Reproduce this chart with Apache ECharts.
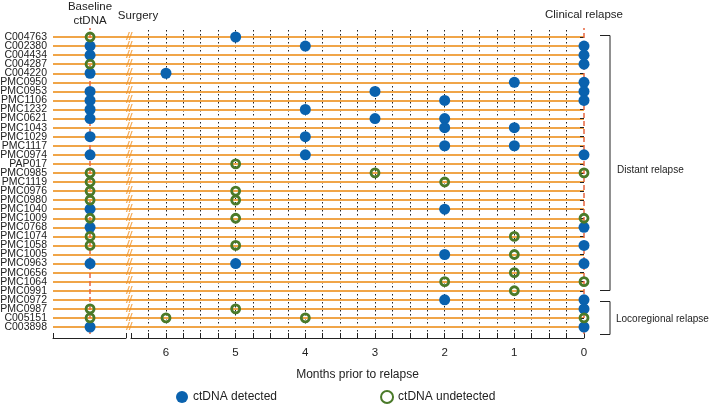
<!DOCTYPE html>
<html>
<head>
<meta charset="utf-8">
<script src="https://cdn.jsdelivr.net/npm/echarts@6/dist/echarts.min.js"></script>
<style>html,body{margin:0;padding:0;background:#fff}#c{width:709px;height:405px}</style>
</head>
<body>
<div id="c"></div>
<script>
// ---------------- data ----------------
const patients = ['C004763','C002380','C004434','C004287','C004220','PMC0950','PMC0953','PMC1106','PMC1232','PMC0621','PMC1043','PMC1029','PMC1117','PMC0974','PAP017','PMC0985','PMC1119','PMC0976','PMC0980','PMC1040','PMC1009','PMC0768','PMC1074','PMC1058','PMC1005','PMC0963','PMC0656','PMC1064','PMC0991','PMC0972','PMC0987','C005151','C003898'];
// D = detected, U = undetected, '-' = no baseline sample
const baselineStatus = ['U','D','D','U','D','-','D','D','D','D','-','D','-','D','-','U','U','U','U','D','U','D','U','U','-','D','-','-','-','-','U','U','D'];
// months prior to relapse with ctDNA detected / undetected
const detectedMonths = [[5],[4,0],[0],[0],[6],[1,0],[3,0],[2,0],[4],[3,2],[2,1],[4],[2,1],[4,0],[],[],[],[],[],[2],[],[0],[],[0],[2],[5,0],[],[],[],[2,0],[0],[],[0]];
const undetectedMonths = [[],[],[],[],[],[],[],[],[],[],[],[],[],[],[5],[3,0],[2],[5],[5],[],[5,0],[],[1],[5],[1],[],[1],[2,0],[1],[],[5],[6,4,0],[]];
const monthTicks = [0,1,2,3,4,5,6];
const groups = ['Distant relapse','Locoregional relapse'];

// -------- layout constants (not data) --------
const AXIS_MAX = 6.5;          // right (labelled) axis segment range
const FULL_MAX = 7.622;        // full data span incl. baseline area
const BASELINE_POS = 7.09;
const SURGERY_POS = 6.53;

const BLUE = '#0a62ae', GREEN = '#4a7a29', ORANGE = '#f0a548', RED = '#e8663f';

const detData = [], undData = [], surgData = [];
patients.forEach((p, i) => {
  if (baselineStatus[i] === 'D') detData.push([BASELINE_POS, p]);
  if (baselineStatus[i] === 'U') undData.push([BASELINE_POS, p]);
  detectedMonths[i].forEach(m => detData.push([m, p]));
  undetectedMonths[i].forEach(m => undData.push([m, p]));
  surgData.push([SURGERY_POS, p]);
});

const font = 'Liberation Sans, Arial, sans-serif';
const chart = echarts.init(document.getElementById('c'), null, {renderer: 'canvas'});

chart.setOption({
  animation: false,
  textStyle: {fontFamily: font},
  grid: [
    {left: 53, right: 125, top: 37, bottom: 78, outerBoundsMode: 'none', containLabel: false},      // data grid
    {left: 131, right: 125, top: 30, bottom: 67, outerBoundsMode: 'none', containLabel: false},     // months axis
    {left: 53, width: 73, top: 30, bottom: 67, outerBoundsMode: 'none', containLabel: false},       // left axis segment
    {left: 53, right: 125, top: 28, bottom: 71, outerBoundsMode: 'none', containLabel: false}       // reference lines
  ],
  xAxis: [
    {gridIndex: 0, type: 'value', min: 0, max: FULL_MAX, inverse: true, show: false},
    {gridIndex: 1, type: 'value', min: 0, max: AXIS_MAX, inverse: true, interval: 0.25,
      axisLine: {show: true, lineStyle: {color: '#222', width: 1}},
      axisTick: {show: true, inside: true, length: 5, lineStyle: {color: '#222'}},
      axisLabel: {fontSize: 11.5, color: '#222', margin: 9, fontFamily: font,
        formatter: v => (monthTicks.indexOf(v) >= 0 ? String(v) : '')},
      splitLine: {show: true, showMinLine: false, showMaxLine: false,
        lineStyle: {color: '#222', width: 1, type: [1.5, 2.5]}},
      name: 'Months prior to relapse', nameLocation: 'middle', nameGap: 31,
      nameTextStyle: {fontSize: 12, color: '#222', fontFamily: font},
      z: 0},
    {gridIndex: 2, type: 'value', min: 0, max: 1, interval: 1,
      axisLine: {show: true, lineStyle: {color: '#222', width: 1}},
      axisTick: {show: true, inside: true, length: 5, lineStyle: {color: '#222'}},
      axisLabel: {show: false}, splitLine: {show: false}},
    {gridIndex: 3, type: 'value', min: 0, max: FULL_MAX, inverse: true, show: false}
  ],
  yAxis: [
    {gridIndex: 0, type: 'category', data: patients, inverse: true, boundaryGap: false,
      axisLine: {show: false},
      axisTick: {show: true, length: 4, interval: 0, lineStyle: {color: '#222'}},
      axisLabel: {fontSize: 10.5, color: '#222', margin: 6, interval: 0, fontFamily: font},
      splitLine: {show: true, interval: 0, lineStyle: {color: ORANGE, width: 1.8}}, z: 1},
    {gridIndex: 1, type: 'value', show: false, min: 0, max: 1},
    {gridIndex: 2, type: 'value', show: false, min: 0, max: 1},
    {gridIndex: 3, type: 'value', show: false, min: 0, max: 1}
  ],
  legend: {
    data: ['ctDNA detected', 'ctDNA undetected'],
    left: 171, top: 385, itemWidth: 12, itemHeight: 12, itemGap: 103,
    textStyle: {fontSize: 12, color: '#222', fontFamily: font}
  },
  series: [
    {type: 'line', xAxisIndex: 3, yAxisIndex: 3, data: [], silent: true,
      markLine: {symbol: 'none', silent: true, label: {show: false},
        lineStyle: {color: RED, width: 1.5, type: [5, 3]},
        data: [{xAxis: BASELINE_POS}, {xAxis: 0}]}, z: 2},
    {name: 'surgery', type: 'scatter', xAxisIndex: 0, yAxisIndex: 0, data: surgData,
      symbolSize: 0, clip: false, silent: true,
      label: {show: true, position: 'inside', formatter: '//', color: '#f39325',
        fontSize: 10, fontWeight: 'bold', fontStyle: 'italic', fontFamily: font}, z: 3},
    {name: 'ctDNA detected', type: 'scatter', xAxisIndex: 0, yAxisIndex: 0, data: detData,
      symbol: 'circle', symbolSize: 11, clip: false,
      itemStyle: {color: BLUE, opacity: 1}, z: 5},
    {name: 'ctDNA undetected', type: 'scatter', xAxisIndex: 0, yAxisIndex: 0, data: undData,
      symbol: 'circle', symbolSize: 8, clip: false,
      itemStyle: {color: 'rgba(255,255,255,0)', borderColor: GREEN, borderWidth: 2.8, opacity: 1}, z: 5}
  ],
  graphic: [
    {type: 'text', style: {text: 'Baseline\nctDNA', x: 90, y: 0, align: 'center', verticalAlign: 'top', lineHeight: 14, fill: '#222', font: '11.5px ' + font}},
    {type: 'text', style: {text: 'Surgery', x: 138, y: 10, align: 'center', verticalAlign: 'top', fill: '#222', font: '11.5px ' + font}},
    {type: 'text', style: {text: 'Clinical relapse', x: 584, y: 9, align: 'center', verticalAlign: 'top', fill: '#222', font: '11.5px ' + font}},
    {type: 'polyline', shape: {points: [[600, 35.5], [610, 35.5], [610, 290.5], [600, 290.5]]}, style: {stroke: '#222', fill: null, lineWidth: 1}},
    {type: 'polyline', shape: {points: [[600, 301.5], [610, 301.5], [610, 334.5], [600, 334.5]]}, style: {stroke: '#222', fill: null, lineWidth: 1}},
    {type: 'text', style: {text: groups[0], x: 617, y: 170, align: 'left', verticalAlign: 'middle', fill: '#222', font: '10px ' + font}},
    {type: 'text', style: {text: groups[1], x: 616, y: 319, align: 'left', verticalAlign: 'middle', fill: '#222', font: '10px ' + font}}
  ]
});
</script>
</body>
</html>
